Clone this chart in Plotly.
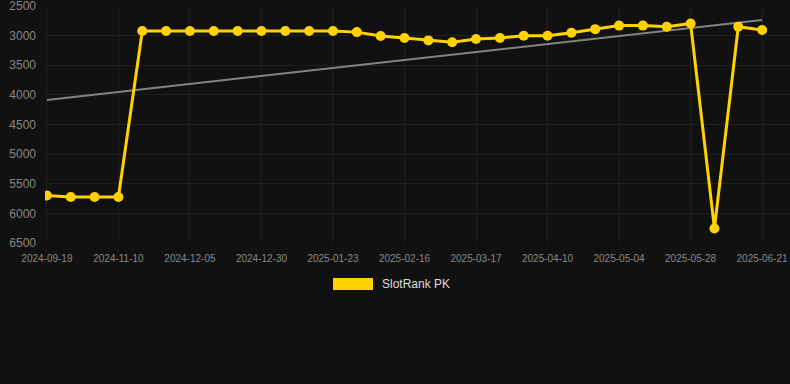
import plotly.graph_objects as go

dates = [
    "2024-09-19", "2024-10-06", "2024-10-23", "2024-11-10", "2024-11-18", "2024-11-27",
    "2024-12-05", "2024-12-13", "2024-12-22", "2024-12-30", "2025-01-07", "2025-01-15",
    "2025-01-23", "2025-01-31", "2025-02-08", "2025-02-16", "2025-02-25", "2025-03-07",
    "2025-03-17", "2025-03-25", "2025-04-02", "2025-04-10", "2025-04-18", "2025-04-26",
    "2025-05-04", "2025-05-12", "2025-05-20", "2025-05-28", "2025-06-05", "2025-06-13",
    "2025-06-21",
]
rank = [
    5700, 5725, 5725, 5725, 2920, 2920, 2920, 2920, 2920, 2920, 2920, 2920,
    2920, 2940, 3005, 3040, 3080, 3110, 3055, 3040, 3000, 3000, 2950, 2890,
    2830, 2830, 2850, 2795, 6255, 2850, 2905,
]
trend_values = [4085, 2735]
series_name = "SlotRank PK"
y_ticks = [2500, 3000, 3500, 4000, 4500, 5000, 5500, 6000, 6500]

GOLD = "#FFD200"
BG = "#111111"
GRID = "#1f1f1f"
TICK = "#888888"
FONT = "Liberation Sans, Arial, sans-serif"

fig = go.Figure()
fig.add_trace(go.Scatter(
    x=[dates[0], dates[-1]], y=trend_values, mode="lines",
    line=dict(color="rgba(150,150,150,0.85)", width=2),
    showlegend=False, hoverinfo="skip",
))
fig.add_trace(go.Scatter(
    x=dates, y=rank, mode="lines+markers", name=series_name,
    line=dict(color=GOLD, width=3),
    marker=dict(color=GOLD, size=10),
    showlegend=False,
))

fig.update_layout(
    width=790, height=384,
    paper_bgcolor=BG, plot_bgcolor=BG,
    margin=dict(l=45, r=0, t=6, b=141),
    font=dict(family=FONT, color=TICK),
    xaxis=dict(
        type="category", categoryorder="array", categoryarray=dates,
        range=[-0.08, 31.17],
        tickvals=dates[::3], ticktext=dates[::3],
        showgrid=True, gridcolor=GRID, gridwidth=1,
        zeroline=False, showline=False, ticks="",
        tickfont=dict(size=10, color=TICK), ticklabelstandoff=8,
        ticklabeloverflow="allow",
    ),
    yaxis=dict(
        range=[6501, 2499], tickvals=y_ticks,
        showgrid=True, gridcolor=GRID, gridwidth=1,
        zeroline=False, showline=False, ticks="",
        tickfont=dict(size=12, color=TICK), ticklabelstandoff=8,
        ticklabeloverflow="allow",
    ),
    shapes=[dict(
        type="rect", xref="paper", yref="paper",
        x0=0.3866, x1=0.4403, y0=-0.198, y1=-0.148,
        fillcolor=GOLD, line=dict(width=0),
    )],
    annotations=[dict(
        text=series_name, xref="paper", yref="paper",
        x=0.449, y=-0.173, xanchor="left", yanchor="middle",
        showarrow=False, font=dict(size=12, color="#dddddd", family=FONT),
    )],
)

fig.write_html(
    "out.html",
    config={"displayModeBar": False},
    post_script="document.body.style.margin='0';document.body.style.background='#111111';",
)
